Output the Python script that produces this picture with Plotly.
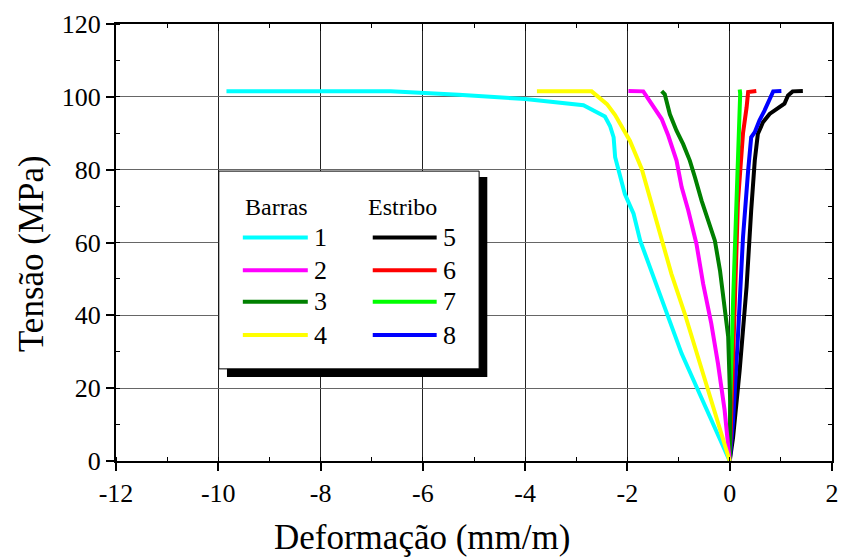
import plotly.graph_objects as go

# ---- data ----
s1_x = [0, -0.32, -0.65, -0.94, -1.23, -1.49, -1.75, -1.88, -2.05, -2.24, -2.27, -2.34, -2.44, -2.86, -4.0, -5.3, -6.63, -9.84]
s1_y = [0, 10.3, 20.4, 29.5, 40.5, 50.5, 60.5, 67.9, 73.3, 83.4, 88.9, 92.0, 94.6, 97.7, 99.4, 100.6, 101.5, 101.5]

s2_x = [0, -0.10, -0.23, -0.36, -0.52, -0.65, -0.81, -0.94, -1.04, -1.20, -1.33, -1.49, -1.69, -1.98]
s2_y = [0, 14.0, 26.8, 37.7, 48.7, 59.6, 68.8, 75.2, 82.5, 89.3, 93.9, 97.1, 101.5, 101.6]

s3_x = [0, 0.01, -0.03, -0.10, -0.19, -0.29, -0.42, -0.55, -0.68, -0.78, -0.91, -1.04, -1.17, -1.27, -1.33]
s3_y = [0, 16, 34.2, 43.2, 52.3, 60.5, 66.0, 71.5, 77.9, 82.5, 87.0, 90.7, 95.2, 100.7, 101.6]

s4_x = [0, -0.36, -0.62, -0.88, -1.14, -1.36, -1.56, -1.72, -1.95, -2.08, -2.24, -2.40, -2.70, -3.77]
s4_y = [0, 16.7, 28.6, 40.5, 51.4, 62.4, 71.5, 80.2, 87.9, 90.9, 95.0, 98.0, 101.5, 101.5]

s5_x = [0, 0.065, 0.195, 0.33, 0.42, 0.49, 0.55, 0.65, 0.78, 0.94, 1.07, 1.14, 1.23, 1.43]
s5_y = [0, 6.4, 25, 47.9, 68.8, 82.5, 89.8, 93.0, 95.3, 96.7, 98.1, 100.4, 101.5, 101.6]

s6_x = [0, 0.03, 0.10, 0.16, 0.26, 0.33, 0.36, 0.52]
s6_y = [0, 16, 43.5, 71, 90, 97.1, 101.3, 101.6]

s7_x = [0, 0.01, 0.065, 0.13, 0.195, 0.205, 0.195]
s7_y = [0, 16, 43.5, 71, 91, 100.9, 102]

s8_x = [0, 0.065, 0.16, 0.26, 0.36, 0.42, 0.49, 0.58, 0.68, 0.79, 0.85, 1.01]
s8_y = [0, 11, 34, 61.5, 79.7, 88.9, 90.3, 93.5, 96.2, 99.8, 101.5, 101.6]

series_names = ["1", "2", "3", "4", "5", "6", "7", "8"]
series_colors = ["#00FFFF", "#FF00FF", "#008000", "#FFFF00", "#000000", "#FF0000", "#00FF00", "#0000FF"]
xs = [s1_x, s2_x, s3_x, s4_x, s5_x, s6_x, s7_x, s8_x]
ys = [s1_y, s2_y, s3_y, s4_y, s5_y, s6_y, s7_y, s8_y]

x_ticks = [-12, -10, -8, -6, -4, -2, 0, 2]
x_tick_labels = ["-12", "-10", "-8", "-6", "-4", "-2", "0", "2"]
y_ticks = [0, 20, 40, 60, 80, 100, 120]
y_tick_labels = ["0", "20", "40", "60", "80", "100", "120"]

FONT = "Times New Roman, Liberation Serif, Tinos, Times, DejaVu Serif, serif"

fig = go.Figure()
draw_order = [4, 7, 5, 6, 2, 1, 0, 3]
for i in draw_order:
    fig.add_trace(go.Scatter(x=xs[i], y=ys[i], mode="lines", name=series_names[i],
                             line=dict(color=series_colors[i], width=4), showlegend=False))
# invisible helper trace so the top/right tick axes are drawn
fig.add_trace(go.Scatter(x=[x_ticks[0]], y=[y_ticks[0]], xaxis="x2", yaxis="y2", mode="markers",
                         marker=dict(opacity=0), showlegend=False, hoverinfo="skip"))

axis_common = dict(
    showline=True, linecolor="black", linewidth=2, mirror=True,
    ticks="outside", ticklen=8, tickwidth=2, tickcolor="black",
    showgrid=True, gridwidth=1, zeroline=False, automargin=False,
    tickfont=dict(family=FONT, size=26, color="black"),
)

fig.update_layout(
    xaxis=dict(range=[-12, 2], tickvals=x_ticks, ticktext=x_tick_labels, gridcolor="#222222",
               minor=dict(ticks="inside", ticklen=4, tickwidth=1, dtick=1, tick0=-12, showgrid=False),
               **axis_common),
    yaxis=dict(range=[0, 120], tickvals=y_ticks, ticktext=y_tick_labels, gridcolor="#666666",
               minor=dict(ticks="inside", ticklen=4, tickwidth=1, dtick=10, tick0=0, showgrid=False),
               **axis_common),
    xaxis2=dict(range=[-12, 2], overlaying="x", side="top", tickvals=x_ticks, showticklabels=False,
                ticks="inside", ticklen=7, tickwidth=1, tickcolor="black", showgrid=False,
                showline=False, zeroline=False, automargin=False,
                minor=dict(ticks="inside", ticklen=4, tickwidth=1, dtick=1, tick0=-12, showgrid=False)),
    yaxis2=dict(range=[0, 120], overlaying="y", side="right", tickvals=y_ticks, showticklabels=False,
                ticks="inside", ticklen=7, tickwidth=1, tickcolor="black", showgrid=False,
                showline=False, zeroline=False, automargin=False,
                minor=dict(ticks="inside", ticklen=4, tickwidth=1, dtick=10, tick0=0, showgrid=False)),
)

# ---- custom legend box (data coords) ----
shapes = []
shapes.append(dict(type="rect", xref="x", yref="y", x0=-9.83, x1=-4.74, y0=23.1, y1=78.0,
                   fillcolor="black", line=dict(width=0), layer="above"))
shapes.append(dict(type="rect", xref="x", yref="y", x0=-9.99, x1=-4.90, y0=25.3, y1=79.6,
                   fillcolor="white", line=dict(color="black", width=1), layer="above"))
row_y = [61.4, 52.4, 43.7, 34.6]
annotations = []
for k in range(8):
    col = k // 4
    r = k % 4
    x0, x1, xl = (-9.52, -8.25, -8.17) if col == 0 else (-6.98, -5.73, -5.65)
    shapes.append(dict(type="line", xref="x", yref="y", x0=x0, x1=x1, y0=row_y[r], y1=row_y[r],
                       line=dict(color=series_colors[k], width=4), layer="above"))
    annotations.append(dict(x=xl, y=row_y[r], xref="x", yref="y", text=series_names[k],
                            showarrow=False, xanchor="left", yanchor="middle",
                            font=dict(family=FONT, size=26, color="black")))
annotations.append(dict(x=-8.87, y=69.7, xref="x", yref="y", text="Barras", showarrow=False,
                        xanchor="center", yanchor="middle", font=dict(family=FONT, size=24, color="black")))
annotations.append(dict(x=-6.40, y=69.7, xref="x", yref="y", text="Estribo", showarrow=False,
                        xanchor="center", yanchor="middle", font=dict(family=FONT, size=24, color="black")))

# axis titles
annotations.append(dict(x=0.427, y=-0.176, xref="paper", yref="paper", text="Deformação (mm/m)",
                        showarrow=False, xanchor="center", yanchor="middle",
                        font=dict(family=FONT, size=35, color="black")))
annotations.append(dict(x=-0.117, y=0.474, xref="paper", yref="paper", text="Tensão (MPa)",
                        showarrow=False, xanchor="center", yanchor="middle", textangle=-90,
                        font=dict(family=FONT, size=35, color="black")))

fig.update_layout(
    width=844, height=557,
    margin=dict(l=116, r=12, t=24, b=96),
    plot_bgcolor="white", paper_bgcolor="white",
    font=dict(family=FONT),
    shapes=shapes, annotations=annotations,
    showlegend=False,
)

fig.write_html("out.html")
